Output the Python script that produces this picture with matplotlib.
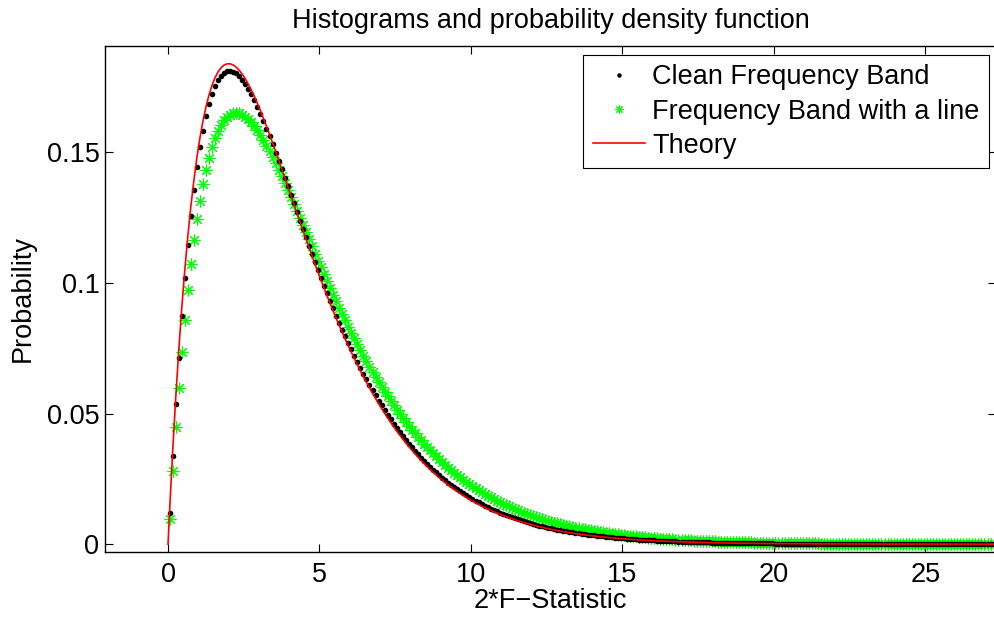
import matplotlib
matplotlib.use('Agg')
import matplotlib.pyplot as plt
import numpy as np

# histogram bins of 2*F: width 0.1 starting at 0
bin_start = 0.0
bin_width = 0.1

# theoretical pdf (at each bin centre)
theory = [
    0.01219, 0.03479, 0.05516, 0.07345, 0.08983, 0.10444, 0.11741, 0.12887, 0.13893, 0.14770,
    0.15528, 0.16178, 0.16727, 0.17184, 0.17557, 0.17852, 0.18077, 0.18238, 0.18340, 0.18388,
    0.18388, 0.18345, 0.18262, 0.18143, 0.17993, 0.17814, 0.17609, 0.17383, 0.17136, 0.16873,
    0.16594, 0.16302, 0.15999, 0.15687, 0.15367, 0.15042, 0.14711, 0.14377, 0.14041, 0.13703,
    0.13364, 0.13027, 0.12690, 0.12355, 0.12023, 0.11693, 0.11367, 0.11045, 0.10728, 0.10415,
    0.10107, 0.09805, 0.09508, 0.09216, 0.08931, 0.08651, 0.08377, 0.08110, 0.07849, 0.07593,
    0.07344, 0.07102, 0.06865, 0.06635, 0.06411, 0.06193, 0.05980, 0.05774, 0.05574, 0.05380,
    0.05191, 0.05008, 0.04830, 0.04658, 0.04491, 0.04329, 0.04173, 0.04021, 0.03874, 0.03732,
    0.03595, 0.03462, 0.03334, 0.03210, 0.03090, 0.02974, 0.02862, 0.02754, 0.02649, 0.02549,
    0.02451, 0.02358, 0.02267, 0.02180, 0.02096, 0.02015, 0.01936, 0.01861, 0.01788, 0.01718,
    0.01651, 0.01586, 0.01524, 0.01464, 0.01406, 0.01350, 0.01296, 0.01245, 0.01195, 0.01147,
    0.01101, 0.01057, 0.01014, 0.00974, 0.00934, 0.00896, 0.00860, 0.00825, 0.00792, 0.00759,
    0.00728, 0.00699, 0.00670, 0.00643, 0.00616, 0.00591, 0.00566, 0.00543, 0.00521, 0.00499,
    0.00478, 0.00459, 0.00440, 0.00421, 0.00404, 0.00387, 0.00371, 0.00355, 0.00340, 0.00326,
    0.00312, 0.00299, 0.00287, 0.00275, 0.00263, 0.00252, 0.00241, 0.00231, 0.00221, 0.00212,
    0.00203, 0.00194, 0.00186, 0.00178, 0.00171, 0.00163, 0.00156, 0.00150, 0.00143, 0.00137,
    0.00131, 0.00126, 0.00120, 0.00115, 0.00110, 0.00105, 0.00101, 0.00097, 0.00092, 0.00088,
    0.00085, 0.00081, 0.00077, 0.00074, 0.00071, 0.00068, 0.00065, 0.00062, 0.00059, 0.00057,
    0.00054, 0.00052, 0.00050, 0.00048, 0.00045, 0.00044, 0.00042, 0.00040, 0.00038, 0.00036,
    0.00035, 0.00033, 0.00032, 0.00030, 0.00029, 0.00028, 0.00027, 0.00025, 0.00024, 0.00023,
    0.00022, 0.00021, 0.00020, 0.00019, 0.00019, 0.00018, 0.00017, 0.00016, 0.00015, 0.00015,
    0.00014, 0.00013, 0.00013, 0.00012, 0.00012, 0.00011, 0.00011, 0.00010, 0.00010, 0.00009,
    0.00009, 0.00009, 0.00008, 0.00008, 0.00007, 0.00007, 0.00007, 0.00006, 0.00006, 0.00006,
    0.00006, 0.00005, 0.00005, 0.00005, 0.00005, 0.00004, 0.00004, 0.00004, 0.00004, 0.00004,
    0.00004, 0.00003, 0.00003, 0.00003, 0.00003, 0.00003, 0.00003, 0.00003, 0.00002, 0.00002,
    0.00002, 0.00002, 0.00002, 0.00002, 0.00002, 0.00002, 0.00002, 0.00002, 0.00002, 0.00002,
    0.00001, 0.00001, 0.00001, 0.00001, 0.00001, 0.00001, 0.00001, 0.00001, 0.00001, 0.00001,
    0.00001, 0.00001, 0.00001,
]

# clean frequency band histogram (black dots)
clean_band = [
    0.01183, 0.03379, 0.05361, 0.07144, 0.08744, 0.10174, 0.11446, 0.12573, 0.13565, 0.14432,
    0.15185, 0.15832, 0.16382, 0.16843, 0.17221, 0.17524, 0.17759, 0.17930, 0.18044, 0.18106,
    0.18120, 0.18090, 0.18022, 0.17919, 0.17784, 0.17620, 0.17431, 0.17220, 0.16989, 0.16740,
    0.16476, 0.16198, 0.15909, 0.15611, 0.15304, 0.14991, 0.14673, 0.14350, 0.14025, 0.13698,
    0.13369, 0.13041, 0.12714, 0.12387, 0.12063, 0.11741, 0.11423, 0.11108, 0.10796, 0.10489,
    0.10187, 0.09889, 0.09597, 0.09310, 0.09028, 0.08752, 0.08481, 0.08216, 0.07957, 0.07704,
    0.07457, 0.07216, 0.06981, 0.06752, 0.06529, 0.06311, 0.06099, 0.05893, 0.05693, 0.05499,
    0.05310, 0.05126, 0.04948, 0.04775, 0.04607, 0.04445, 0.04287, 0.04134, 0.03986, 0.03843,
    0.03704, 0.03570, 0.03440, 0.03314, 0.03193, 0.03075, 0.02961, 0.02852, 0.02746, 0.02643,
    0.02544, 0.02449, 0.02356, 0.02267, 0.02181, 0.02099, 0.02018, 0.01941, 0.01867, 0.01795,
    0.01726, 0.01659, 0.01595, 0.01533, 0.01474, 0.01416, 0.01361, 0.01308, 0.01256, 0.01207,
    0.01159, 0.01113, 0.01069, 0.01027, 0.00986, 0.00947, 0.00909, 0.00873, 0.00838, 0.00804,
    0.00772, 0.00741, 0.00712, 0.00683, 0.00655, 0.00629, 0.00603, 0.00579, 0.00555, 0.00533,
    0.00511, 0.00490, 0.00470, 0.00451, 0.00432, 0.00415, 0.00397, 0.00381, 0.00366, 0.00350,
    0.00336, 0.00322, 0.00309, 0.00296, 0.00284, 0.00272, 0.00261, 0.00250, 0.00239, 0.00229,
    0.00220, 0.00211, 0.00202, 0.00193, 0.00185, 0.00177, 0.00170, 0.00163, 0.00156, 0.00150,
    0.00143, 0.00137, 0.00131, 0.00126, 0.00121, 0.00115, 0.00111, 0.00106, 0.00101, 0.00097,
    0.00093, 0.00089, 0.00085, 0.00082, 0.00078, 0.00075, 0.00072, 0.00069, 0.00066, 0.00063,
    0.00060, 0.00058, 0.00055, 0.00053, 0.00050, 0.00048, 0.00046, 0.00044, 0.00042, 0.00041,
    0.00039, 0.00037, 0.00035, 0.00034, 0.00033, 0.00031, 0.00030, 0.00028, 0.00027, 0.00026,
    0.00025, 0.00024, 0.00023, 0.00022, 0.00021, 0.00020, 0.00019, 0.00018, 0.00017, 0.00017,
    0.00016, 0.00015, 0.00015, 0.00014, 0.00013, 0.00013, 0.00012, 0.00012, 0.00011, 0.00011,
    0.00010, 0.00010, 0.00009, 0.00009, 0.00008, 0.00008, 0.00008, 0.00007, 0.00007, 0.00007,
    0.00006, 0.00006, 0.00006, 0.00006, 0.00005, 0.00005, 0.00005, 0.00005, 0.00004, 0.00004,
    0.00004, 0.00004, 0.00004, 0.00004, 0.00003, 0.00003, 0.00003, 0.00003, 0.00003, 0.00003,
    0.00003, 0.00003, 0.00002, 0.00002, 0.00002, 0.00002, 0.00002, 0.00002, 0.00002, 0.00002,
    0.00002, 0.00002, 0.00002, 0.00002, 0.00002, 0.00002, 0.00002, 0.00002, 0.00002, 0.00002,
    0.00001, 0.00001, 0.00001,
]

# frequency band with a line (green asterisks)
line_band = [
    0.00976, 0.02802, 0.04466, 0.05981, 0.07356, 0.08600, 0.09722, 0.10730, 0.11632, 0.12435,
    0.13146, 0.13772, 0.14318, 0.14791, 0.15195, 0.15536, 0.15818, 0.16046, 0.16224, 0.16356,
    0.16445, 0.16496, 0.16511, 0.16493, 0.16445, 0.16369, 0.16269, 0.16147, 0.16003, 0.15842,
    0.15664, 0.15464, 0.15258, 0.15040, 0.14812, 0.14575, 0.14330, 0.14078, 0.13822, 0.13560,
    0.13295, 0.13027, 0.12756, 0.12485, 0.12212, 0.11940, 0.11668, 0.11396, 0.11126, 0.10858,
    0.10591, 0.10329, 0.10068, 0.09810, 0.09555, 0.09303, 0.09055, 0.08810, 0.08570, 0.08332,
    0.08100, 0.07873, 0.07650, 0.07431, 0.07217, 0.07006, 0.06800, 0.06599, 0.06402, 0.06209,
    0.06021, 0.05838, 0.05660, 0.05485, 0.05315, 0.05150, 0.04988, 0.04830, 0.04677, 0.04527,
    0.04382, 0.04242, 0.04104, 0.03971, 0.03842, 0.03716, 0.03593, 0.03474, 0.03359, 0.03247,
    0.03138, 0.03033, 0.02931, 0.02832, 0.02736, 0.02643, 0.02552, 0.02465, 0.02380, 0.02298,
    0.02218, 0.02141, 0.02067, 0.01995, 0.01925, 0.01858, 0.01792, 0.01729, 0.01668, 0.01608,
    0.01551, 0.01496, 0.01443, 0.01391, 0.01341, 0.01293, 0.01247, 0.01202, 0.01158, 0.01116,
    0.01076, 0.01037, 0.00999, 0.00962, 0.00927, 0.00893, 0.00860, 0.00829, 0.00798, 0.00769,
    0.00740, 0.00713, 0.00686, 0.00661, 0.00636, 0.00613, 0.00589, 0.00567, 0.00546, 0.00526,
    0.00506, 0.00487, 0.00469, 0.00451, 0.00434, 0.00417, 0.00402, 0.00386, 0.00372, 0.00357,
    0.00344, 0.00331, 0.00318, 0.00306, 0.00294, 0.00283, 0.00272, 0.00262, 0.00252, 0.00242,
    0.00233, 0.00224, 0.00215, 0.00207, 0.00199, 0.00191, 0.00184, 0.00177, 0.00170, 0.00163,
    0.00157, 0.00151, 0.00145, 0.00139, 0.00134, 0.00128, 0.00123, 0.00119, 0.00114, 0.00109,
    0.00105, 0.00101, 0.00097, 0.00093, 0.00090, 0.00086, 0.00083, 0.00079, 0.00076, 0.00073,
    0.00070, 0.00068, 0.00065, 0.00062, 0.00060, 0.00057, 0.00055, 0.00053, 0.00051, 0.00049,
    0.00047, 0.00045, 0.00043, 0.00041, 0.00040, 0.00038, 0.00037, 0.00035, 0.00034, 0.00032,
    0.00031, 0.00030, 0.00029, 0.00027, 0.00026, 0.00025, 0.00023, 0.00022, 0.00022, 0.00021,
    0.00020, 0.00019, 0.00019, 0.00018, 0.00017, 0.00017, 0.00016, 0.00015, 0.00014, 0.00014,
    0.00013, 0.00013, 0.00012, 0.00012, 0.00011, 0.00011, 0.00010, 0.00010, 0.00009, 0.00009,
    0.00009, 0.00008, 0.00008, 0.00008, 0.00008, 0.00007, 0.00007, 0.00007, 0.00006, 0.00006,
    0.00006, 0.00006, 0.00006, 0.00005, 0.00005, 0.00005, 0.00005, 0.00004, 0.00004, 0.00004,
    0.00004, 0.00004, 0.00004, 0.00004, 0.00003, 0.00003, 0.00003, 0.00003, 0.00003, 0.00003,
    0.00003, 0.00003, 0.00002,
]

x_ticks = [0, 5, 10, 15, 20, 25]
y_ticks = [0, 0.05, 0.1, 0.15]
y_tick_labels = ['0', '0.05', '0.1', '0.15']
legend_labels = ['Clean Frequency Band', 'Frequency Band with a line', 'Theory']


def main():

    plt.rcParams['font.family'] = ['Liberation Sans', 'DejaVu Sans']
    plt.rcParams['font.size'] = 19.5

    centers = np.round(bin_start + bin_width / 2 + bin_width * np.arange(len(theory)), 3)
    theory_x = np.concatenate([[bin_start], centers])
    theory_y = np.concatenate([[0.0], theory])

    fig = plt.figure(figsize=(9.95, 6.18), dpi=100)
    ax = fig.add_axes([105 / 995, 1 - 552 / 618, 891 / 995, 506 / 618])

    h_line, = ax.plot(centers, line_band, linestyle='none', marker=(8, 2, 0),
                      markersize=8.5, markeredgewidth=0.8, color=(0, 1, 0), zorder=2)
    h_clean, = ax.plot(centers, clean_band, linestyle='none', marker='o',
                       markersize=3.0, color='k', zorder=3)
    h_theory, = ax.plot(theory_x, theory_y, color=(1, 0, 0), linewidth=1.2, zorder=4)

    ax.set_xlim(-2.08, 27.33)
    ax.set_ylim(-0.003, 0.1907)
    ax.set_xticks(x_ticks)
    ax.set_yticks(y_ticks)
    ax.set_yticklabels(y_tick_labels)
    ax.tick_params(direction='in', length=6, width=0.8, top=True, right=True)
    ax.tick_params(axis='x', pad=7)
    ax.tick_params(axis='y', pad=4)
    for s in ax.spines.values():
        s.set_linewidth(1.0)

    ax.set_title('Histograms and probability density function', pad=13, fontsize=19.5)
    ax.set_xlabel('2*F\u2212Statistic', labelpad=0)
    ax.set_ylabel('Probability', labelpad=8)

    leg = ax.legend([h_clean, h_line, h_theory], legend_labels,
                    loc='upper right', bbox_to_anchor=(989 / 995, 1 - 55 / 618),
                    bbox_transform=fig.transFigure, borderaxespad=0,
                    fancybox=False, framealpha=1, edgecolor='k',
                    handlelength=1.95, handletextpad=0.25, labelspacing=0.3,
                    borderpad=0.35)
    leg.get_frame().set_linewidth(0.8)
    leg.legend_handles[0].set_markersize(2.2)
    leg.legend_handles[1].set_markersize(6)

    fig.savefig('out.png', dpi=100)


if __name__ == '__main__':

    main()
